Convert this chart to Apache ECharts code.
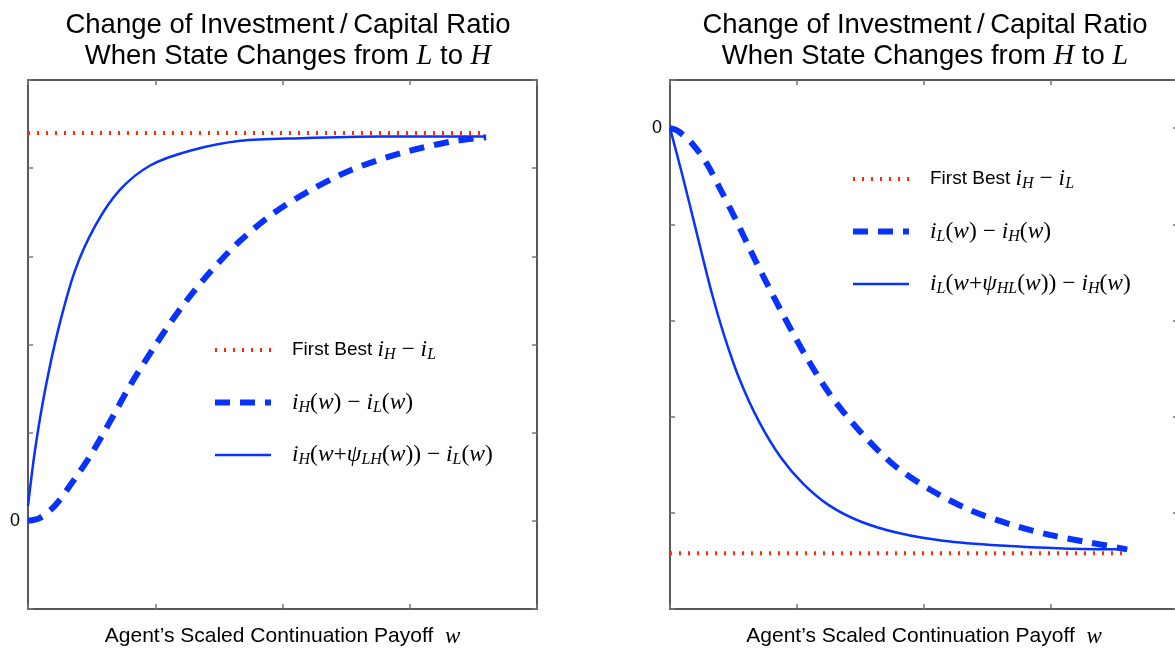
<!DOCTYPE html>
<html>
<head>
<meta charset="utf-8">
<script src="https://cdn.jsdelivr.net/npm/echarts@6/dist/echarts.min.js"></script>
<style>
  html, body { margin: 0; padding: 0; background: #fff; }
  #chart { width: 1175px; height: 649px; }
</style>
</head>
<body>
<div id="chart"></div>
<script>
// ---- data (w in tick units, ratio change in tick units) ----
// left panel: state changes from L to H
var wDashLH  = [0, 0.09, 0.21, 0.33, 0.49, 0.65, 0.80, 1.0, 1.2, 1.43, 1.67, 1.94, 2.22, 2.54, 2.93, 3.32, 3.6]
var iDashLH  = [0, 0.03, 0.17, 0.40, 0.74, 1.14, 1.53, 1.99, 2.41, 2.82, 3.18, 3.50, 3.75, 3.98, 4.17, 4.30, 4.35]
var wSolidLH = [0, 0.055, 0.134, 0.236, 0.37, 0.53, 0.72, 0.96, 1.28, 1.67, 2.14, 2.77, 3.6]
var iSolidLH = [0.17, 0.8, 1.48, 2.16, 2.84, 3.35, 3.75, 4.03, 4.20, 4.31, 4.34, 4.36, 4.36]
var firstBestLH = 4.40

// right panel: state changes from H to L
var wDashHL  = [0, 0.063, 0.18, 0.29, 0.39, 0.51, 0.67, 0.87, 1.06, 1.26, 1.50, 1.77, 2.05, 2.36, 2.68, 2.99, 3.31, 3.6]
var iDashHL  = [0, -0.03, -0.17, -0.37, -0.62, -0.93, -1.37, -1.89, -2.35, -2.77, -3.16, -3.51, -3.76, -3.97, -4.12, -4.23, -4.31, -4.38]
var wSolidHL = [0, 0.08, 0.16, 0.24, 0.33, 0.43, 0.55, 0.70, 0.87, 1.05, 1.25, 1.50, 1.80, 2.15, 2.6, 3.1, 3.6]
var iSolidHL = [0, -0.40, -0.82, -1.25, -1.72, -2.17, -2.62, -3.05, -3.42, -3.70, -3.92, -4.09, -4.21, -4.29, -4.34, -4.37, -4.38]
var firstBestHL = -4.42

var firstBestEnd = 3.58
var yTickLabels = ['0']

function pairs(xs, ys) {
  return xs.map(function (x, k) { return [x, ys[k]] })
}

var blue = '#0832ff'
var red = '#ff2a00'

var rich = {
  t: { fontFamily: 'Liberation Sans', fontSize: 19, color: '#000', lineHeight: 26 },
  m: { fontFamily: 'Liberation Serif', fontStyle: 'italic', fontSize: 23.5, color: '#000', lineHeight: 26 },
  u: { fontFamily: 'Liberation Serif', fontSize: 23.5, color: '#000', lineHeight: 26 },
  s: { fontFamily: 'Liberation Serif', fontStyle: 'italic', fontSize: 16, color: '#000', lineHeight: 15, verticalAlign: 'bottom' },
  sp: { width: 16 }
}

var legendText = {
  'fbLH': '{sp|}{t|First Best }{m|i}{s|H}{u| − }{m|i}{s|L}',
  'dashLH': '{sp|}{m|i}{s|H}{u|(}{m|w}{u|) − }{m|i}{s|L}{u|(}{m|w}{u|)}',
  'solidLH': '{sp|}{m|i}{s|H}{u|(}{m|w}{u|+}{m|ψ}{s|LH}{u|(}{m|w}{u|)) − }{m|i}{s|L}{u|(}{m|w}{u|)}',
  'fbHL': '{sp|}{t|First Best }{m|i}{s|H}{u| − }{m|i}{s|L}',
  'dashHL': '{sp|}{m|i}{s|L}{u|(}{m|w}{u|) − }{m|i}{s|H}{u|(}{m|w}{u|)}',
  'solidHL': '{sp|}{m|i}{s|L}{u|(}{m|w}{u|+}{m|ψ}{s|HL}{u|(}{m|w}{u|)) − }{m|i}{s|H}{u|(}{m|w}{u|)}'
}

var titleRich = {
  a: { fontFamily: 'Liberation Sans', fontWeight: 'normal', fontSize: 27.5, color: '#000', lineHeight: 31 },
  b: { fontFamily: 'Liberation Serif', fontStyle: 'italic', fontWeight: 'normal', fontSize: 28.5, color: '#000', lineHeight: 31 }
}
var nameRich = {
  a: { fontFamily: 'Liberation Sans', fontSize: 21, color: '#000' },
  b: { fontFamily: 'Liberation Serif', fontStyle: 'italic', fontSize: 23, color: '#000' }
}

function xAx(grid, pos, named) {
  return {
    type: 'value', gridIndex: grid, position: pos, min: 0, max: 4, interval: 1,
    axisLine: { show: true, onZero: false, lineStyle: { color: '#222', width: 1.5 } },
    axisTick: { show: true, inside: true, length: 5, lineStyle: { color: '#777', width: 1.5 } },
    axisLabel: { show: false },
    splitLine: { show: false },
    name: named ? '{a|Agent\u2019s Scaled Continuation Payoff  }{b|w}' : '',
    nameLocation: 'middle', nameGap: 16,
    nameTextStyle: { rich: nameRich }
  }
}
function yAx(grid, pos, min, max, labels) {
  return {
    type: 'value', gridIndex: grid, position: pos, min: min, max: max, interval: 1,
    axisLine: { show: true, onZero: false, lineStyle: { color: '#222', width: 1.5 } },
    axisTick: { show: true, inside: true, length: 5, lineStyle: { color: '#777', width: 1.5 } },
    axisLabel: {
      show: labels, margin: 8, fontFamily: 'Liberation Sans', fontSize: 18, color: '#000',
      formatter: function (v) { return v === 0 ? yTickLabels[0] : '' }
    },
    splitLine: { show: false }
  }
}

function legendFor(names, left, top) {
  return {
    data: names, orient: 'vertical', left: left, top: top, padding: 0,
    itemWidth: 56, itemHeight: 14, itemGap: 27.5, selectedMode: false,
    lineStyle: { width: 'inherit' },
    itemStyle: { opacity: 0 },
    formatter: function (n) { return legendText[n] },
    textStyle: { rich: rich }
  }
}

function fbSeries(name, xi, v) {
  return {
    name: name, type: 'line', xAxisIndex: xi, yAxisIndex: xi, symbol: 'none',
    data: [[0, v], [firstBestEnd, v]],
    lineStyle: { color: red, width: 4, type: [2, 7] }, itemStyle: { color: red }
  }
}
function dashSeries(name, xi, xs, ys) {
  return {
    name: name, type: 'line', xAxisIndex: xi, yAxisIndex: xi, symbol: 'none', smooth: 0.3,
    data: pairs(xs, ys),
    lineStyle: { color: blue, width: 6, type: [15, 10] }, itemStyle: { color: blue }
  }
}
function solidSeries(name, xi, xs, ys) {
  return {
    name: name, type: 'line', xAxisIndex: xi, yAxisIndex: xi, symbol: 'none', smooth: 0.3,
    data: pairs(xs, ys),
    lineStyle: { color: blue, width: 2.5 }, itemStyle: { color: blue }
  }
}

var myChart = echarts.init(document.getElementById('chart'))
myChart.setOption({
  animation: false,
  backgroundColor: '#fff',
  title: [
    { text: '{a|Change of Investment\u2009/\u2009Capital Ratio}\n{a|When State Changes from }{b|L}{a| to }{b|H}',
      left: 283, top: 5, textAlign: 'center', textStyle: { rich: titleRich } },
    { text: '{a|Change of Investment\u2009/\u2009Capital Ratio}\n{a|When State Changes from }{b|H}{a| to }{b|L}',
      left: 920, top: 5, textAlign: 'center', textStyle: { rich: titleRich } }
  ],
  grid: [
    { left: 28, top: 80, width: 509, height: 529, outerBoundsMode: 'none' },
    { left: 670, top: 80, width: 508, height: 529, outerBoundsMode: 'none' }
  ],
  xAxis: [xAx(0, 'bottom', true), xAx(0, 'top', false), xAx(1, 'bottom', true), xAx(1, 'top', false)],
  yAxis: [yAx(0, 'left', -1, 5, true), yAx(0, 'right', -1, 5, false),
          yAx(1, 'left', -5, 0.5, true), yAx(1, 'right', -5, 0.5, false)],
  legend: [
    legendFor(['fbLH', 'dashLH', 'solidLH'], 212, 338),
    legendFor(['fbHL', 'dashHL', 'solidHL'], 850, 167)
  ],
  series: [
    fbSeries('fbLH', 0, firstBestLH),
    dashSeries('dashLH', 0, wDashLH, iDashLH),
    solidSeries('solidLH', 0, wSolidLH, iSolidLH),
    fbSeries('fbHL', 2, firstBestHL),
    dashSeries('dashHL', 2, wDashHL, iDashHL),
    solidSeries('solidHL', 2, wSolidHL, iSolidHL)
  ]
})
</script>
</body>
</html>
